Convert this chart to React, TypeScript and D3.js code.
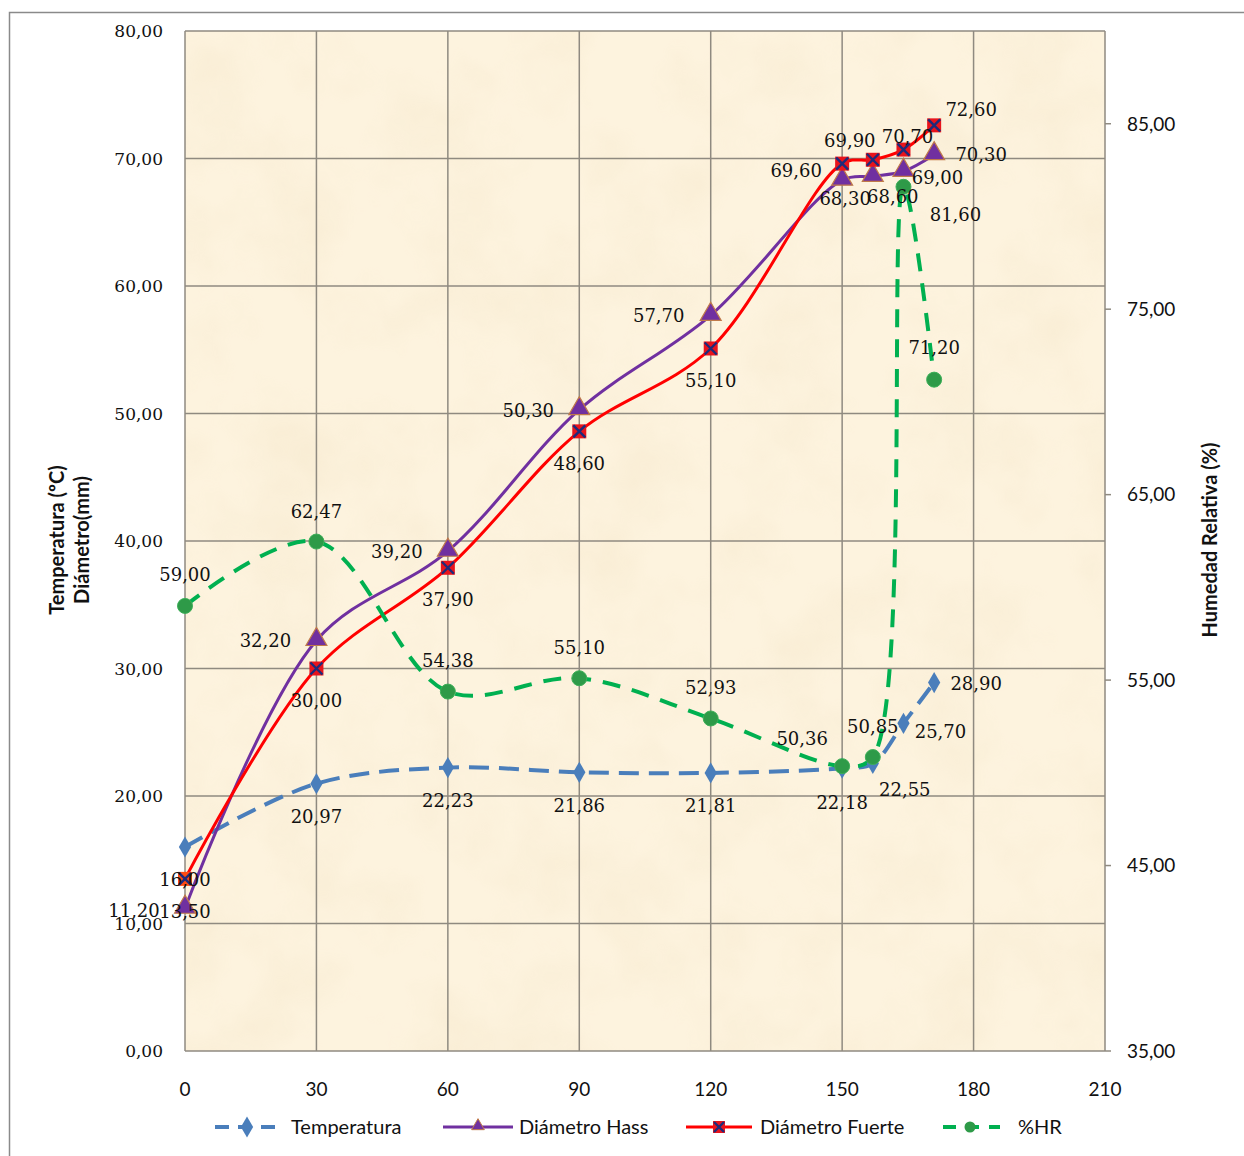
import React from "react";
import * as d3 from "d3";

const days = [0, 30, 60, 90, 120, 150, 157, 164, 171];
const temperatura = [16.0, 20.97, 22.23, 21.86, 21.81, 22.18, 22.55, 25.7, 28.9];
const diametroHass = [11.2, 32.2, 39.2, 50.3, 57.7, 68.3, 68.6, 69.0, 70.3];
const diametroFuerte = [13.5, 30.0, 37.9, 48.6, 55.1, 69.6, 69.9, 70.7, 72.6];
const humedad = [59.0, 62.47, 54.38, 55.1, 52.93, 50.36, 50.85, 81.6, 71.2];

const xTicks = [0, 30, 60, 90, 120, 150, 180, 210];
const yLeftTicks = [0, 10, 20, 30, 40, 50, 60, 70, 80];
const yRightTicks = [35, 45, 55, 65, 75, 85];

const legendLabels = ["Temperatura", "Diámetro Hass", "Diámetro Fuerte", "%HR"];

// label offsets (px) relative to each point
const tempLabelOff: [number, number][] = [[0, 33], [0, 33], [0, 33], [0, 33], [0, 33], [0, 34], [32, 26], [37, 8], [42, 1]];
const hassLabelOff: [number, number][] = [[-51, 2], [-51, 0], [-51, 0], [-51, 1], [-52, 0], [3, 18], [20, 20], [34, 6], [47, 0]];
const fuerteLabelOff: [number, number][] = [[0, 33], [0, 32], [0, 32], [0, 32], [0, 32], [-46, 7], [-23, -19], [4, -13], [37, -16]];
const hrLabelOff: [number, number][] = [[0, -31], [0, -30], [0, -31], [0, -31], [0, -31], [-40, -28], [0, -31], [52, 28], [0, -32]];

const fmt = (v: number) => v.toFixed(2).replace(".", ",");

const W = 1244;
const H = 1156;
const L = 185, R = 1105, T = 31, B = 1051;

const x = d3.scaleLinear().domain([0, 210]).range([L, R]);
const yL = d3.scaleLinear().domain([0, 80]).range([B, T]);
const yR = d3.scaleLinear().domain([35, 90]).range([B, T]);

const curve = d3.curveCatmullRom.alpha(0.5);

const BLUE = "#4A7EBB";
const PURPLE = "#7030A0";
const RED = "#FF0000";
const GREEN = "#00B050";
const SERIF = "'DejaVu Serif', serif";
const SANS = "Lato, 'Open Sans', sans-serif";

function lineFor(vals: number[], y: d3.ScaleLinear<number, number>) {
  return d3
    .line<number>()
    .x((_, i) => x(days[i]))
    .y((v) => y(v))
    .curve(curve)(vals) as string;
}

const diamond = d3.symbol().type(d3.symbolDiamond).size(130)() as string;
const triangle = d3.symbol().type(d3.symbolTriangle).size(190)() as string;

function SquareX({ cx, cy, s = 7, fill = "#E8141C" }: { cx: number; cy: number; s?: number; fill?: string }) {
  return (
    <g transform={`translate(${cx},${cy})`}>
      <rect x={-s} y={-s} width={2 * s} height={2 * s} fill={fill} />
      <path d={`M${-s + 1},${-s + 1}L${s - 1},${s - 1}M${-s + 1},${s - 1}L${s - 1},${-s + 1}`} stroke="#1F2A7A" strokeWidth={2.4} />
    </g>
  );
}

function Labels({ vals, y, off }: { vals: number[]; y: d3.ScaleLinear<number, number>; off: [number, number][] }) {
  return (
    <g fontFamily={SERIF} fontSize={18} fill="#111" textAnchor="middle">
      {vals.map((v, i) => (
        <text key={i} x={x(days[i]) + off[i][0]} y={y(v) + off[i][1]} dy="0.36em">
          {fmt(v)}
        </text>
      ))}
    </g>
  );
}

export default function App() {
  return (
    <svg
      width={W}
      height={H}
      style={{ position: "absolute", left: 0, top: 0, display: "block", background: "#fff" }}
    >
      <defs>
        <filter id="paper" x="0" y="0" width="100%" height="100%">
          <feTurbulence type="fractalNoise" baseFrequency="0.012" numOctaves={4} seed={3} result="n" />
          <feColorMatrix
            in="n"
            type="matrix"
            values="0 0 0 0 0.85  0 0 0 0 0.72  0 0 0 0 0.5  0 0 0 -1.6 0.95"
          />
        </filter>
      </defs>
      <rect x={9.5} y={12.5} width={1250} height={1160} fill="#fff" stroke="#8a8a8a" strokeWidth={1.5} />
      {/* plot area */}
      <rect x={L} y={T} width={R - L} height={B - T} fill="#FDF3DE" />
      <rect x={L} y={T} width={R - L} height={B - T} filter="url(#paper)" opacity={0.3} />

      {/* grid */}
      <g stroke="#8F8A80" strokeWidth={1.5}>
        {yLeftTicks.map((t) => (
          <line key={"h" + t} x1={L} x2={R} y1={yL(t)} y2={yL(t)} />
        ))}
        {xTicks.map((t) => (
          <line key={"v" + t} x1={x(t)} x2={x(t)} y1={T} y2={B} />
        ))}
        {yRightTicks.map((t) => (
          <line key={"r" + t} x1={R} x2={R + 6} y1={yR(t)} y2={yR(t)} />
        ))}
      </g>

      {/* left tick labels */}
      <g fontFamily={SERIF} fontSize={17} fill="#111" textAnchor="end">
        {yLeftTicks.map((t) => (
          <text key={t} x={163} y={yL(t)} dy="0.36em">
            {fmt(t)}
          </text>
        ))}
      </g>
      {/* right tick labels */}
      <g fontFamily={SANS} fontSize={19} fill="#111" textAnchor="start">
        {yRightTicks.map((t) => (
          <text key={t} x={1127} y={yR(t)} dy="0.36em">
            {fmt(t)}
          </text>
        ))}
      </g>
      {/* x tick labels */}
      <g fontFamily={SANS} fontSize={19} fill="#111" textAnchor="middle">
        {xTicks.map((t) => (
          <text key={t} x={x(t)} y={1089} dy="0.36em">
            {t}
          </text>
        ))}
      </g>

      {/* axis titles */}
      <g fontFamily={SANS} fontSize={20} fontWeight="bold" fill="#111" textAnchor="middle">
        <text transform="translate(57,540) rotate(-90)" dy="0.36em">Temperatura (ºC)</text>
        <text transform="translate(82,540) rotate(-90)" dy="0.36em">Diámetro(mm)</text>
        <text transform="translate(1210,540) rotate(-90)" dy="0.36em">Humedad Relativa (%)</text>
      </g>

      {/* series lines */}
      <path d={lineFor(temperatura, yL)} fill="none" stroke={BLUE} strokeWidth={4} strokeDasharray="20 10" />
      <path d={lineFor(diametroHass, yL)} fill="none" stroke={PURPLE} strokeWidth={3} />
      <path d={lineFor(diametroFuerte, yL)} fill="none" stroke={RED} strokeWidth={3} />
      <path d={lineFor(humedad, yR)} fill="none" stroke={GREEN} strokeWidth={4} strokeDasharray="18 12" />

      {/* markers */}
      {temperatura.map((v, i) => (
        <path key={"tm" + i} d={diamond} transform={`translate(${x(days[i])},${yL(v)})`} fill={BLUE} />
      ))}
      {diametroHass.map((v, i) => (
        <path key={"hm" + i} d={triangle} transform={`translate(${x(days[i])},${yL(v) - 1})`} fill={PURPLE} stroke="#C07A4A" strokeWidth={1.2} />
      ))}
      {diametroFuerte.map((v, i) => (
        <SquareX key={"fm" + i} cx={x(days[i])} cy={yL(v)} fill={i === 0 ? "#FF4A10" : "#E8141C"} />
      ))}
      {humedad.map((v, i) => (
        <circle key={"gm" + i} cx={x(days[i])} cy={yR(v)} r={7.5} fill="#2E9A48" stroke="#3DAF58" strokeWidth={1} />
      ))}

      {/* data labels */}
      <Labels vals={temperatura} y={yL} off={tempLabelOff} />
      <Labels vals={diametroHass} y={yL} off={hassLabelOff} />
      <Labels vals={diametroFuerte} y={yL} off={fuerteLabelOff} />
      <Labels vals={humedad} y={yR} off={hrLabelOff} />

      {/* legend */}
      <g fontFamily={SANS} fontSize={20} fill="#111">
        {/* Temperatura */}
        <line x1={215} x2={275} y1={1127} y2={1127} stroke={BLUE} strokeWidth={4} strokeDasharray="14 9" />
        <path d={diamond} transform="translate(247,1127)" fill={BLUE} />
        <text x={291} y={1127} dy="0.36em">{legendLabels[0]}</text>
        {/* Hass */}
        <line x1={443} x2={513} y1={1127} y2={1127} stroke={PURPLE} strokeWidth={3} />
        <path d={d3.symbol().type(d3.symbolTriangle).size(70)() as string} transform="translate(478,1126)" fill={PURPLE} stroke="#C07A4A" />
        <text x={519} y={1127} dy="0.36em">{legendLabels[1]}</text>
        {/* Fuerte */}
        <line x1={686} x2={752} y1={1127} y2={1127} stroke={RED} strokeWidth={3} />
        <SquareX cx={719} cy={1127} s={6} />
        <text x={760} y={1127} dy="0.36em">{legendLabels[2]}</text>
        {/* HR */}
        <line x1={943} x2={1000} y1={1127} y2={1127} stroke={GREEN} strokeWidth={4} strokeDasharray="13 10" />
        <circle cx={970} cy={1127} r={5.5} fill="#2E9A48" />
        <text x={1018} y={1127} dy="0.36em">{legendLabels[3]}</text>
      </g>
    </svg>
  );
}
